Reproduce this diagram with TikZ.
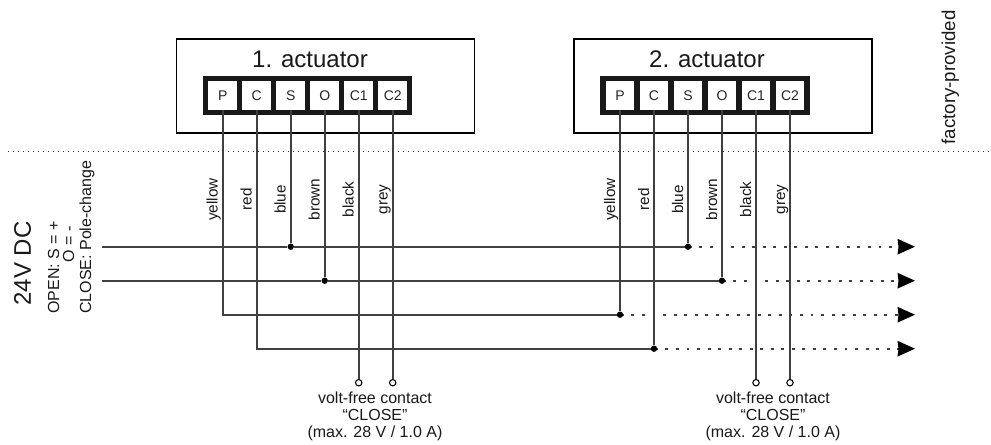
\documentclass[tikz,border=0pt]{standalone}
\usepackage{fontspec}
\setmainfont{Liberation Sans}
\usetikzlibrary{arrows.meta}

\begin{document}
\begin{tikzpicture}[
  x=0.75pt, y=-0.75pt,
  housing/.style={draw, line width=1pt, fill=white, minimum width=223.5pt, minimum height=70.5pt, inner sep=0pt},
  strip/.style={fill=black!90, minimum width=156.8pt, minimum height=29.3pt, inner sep=0pt},
  cell/.style={fill=white, text=black!85, font=\fontsize{10.5}{12}\selectfont, minimum width=21.4pt, minimum height=21.8pt, inner sep=0pt},
  title/.style={font=\fontsize{18}{20}\selectfont, text=black!90, inner sep=0pt},
  wire/.style={line width=1.4pt, black!75},
  colour/.style={font=\fontsize{11.5}{13}\selectfont, rotate=90, anchor=base, inner sep=0pt, text=black!90},
  side/.style={font=\fontsize{12}{14}\selectfont, rotate=90, inner sep=0pt, text=black!90},
  joint/.style={circle, fill=black, minimum size=4.8pt, inner sep=0pt},
  contact/.style={circle, draw, fill=white, line width=0.8pt, minimum size=4.8pt, inner sep=0pt},
  onward/.style={line width=1.4pt, black!75, dash pattern=on 2.2pt off 5.7pt, dash phase=-6pt, -{Stealth[length=13pt, width=11.5pt, inset=0.6pt, black]}},
  rating/.style={font=\fontsize{12}{12.75}\selectfont, align=center, anchor=north, inner sep=0pt, text=black!90}
]
\useasboundingbox (0,0) rectangle (991,445);

% separator and side notes
\coordinate (sepL) at (8,152);
\coordinate (sepR) at (990,152);
\draw[line width=0.75pt, black!80, dash pattern=on 1pt off 2.75pt] (sepL) -- (sepR);
\node[font=\fontsize{14}{16}\selectfont, rotate=90, anchor=base, inner sep=0pt, text=black!90] (factory) at (955,77.5) {factory-provided};
\node[font=\fontsize{18}{20}\selectfont, rotate=90, anchor=base, inner sep=0pt, text=black!90] (supply) at (31,263.5) {24V DC};
\node[side, anchor=base west] (open) at (59,314) {OPEN: S = +};
\node[side, anchor=base east] (openO) at (74,226) {O = -};
\node[side, anchor=base west] (close) at (91,314) {CLOSE: Pole-change};

% actuator 1
\node[housing] (act1) at (325.5,86) {};
\node[title] (name1) at (310,59) {1. actuator};
\node[strip] (bar1) at (307.7,95.5) {};
\node[cell] (P1) at (222.7,95.5) {P};
\node[cell] (C1) at (256.7,95.5) {C};
\node[cell] (S1) at (290.7,95.5) {S};
\node[cell] (O1) at (324.7,95.5) {O};
\node[cell] (Ca1) at (358.7,95.5) {C1};
\node[cell] (Cb1) at (392.7,95.5) {C2};

% actuator 2
\node[housing] (act2) at (723,86) {};
\node[title] (name2) at (707,59) {2. actuator};
\node[strip] (bar2) at (705,95.5) {};
\node[cell] (P2) at (620,95.5) {P};
\node[cell] (C2) at (654,95.5) {C};
\node[cell] (S2) at (688,95.5) {S};
\node[cell] (O2) at (722,95.5) {O};
\node[cell] (Ca2) at (756,95.5) {C1};
\node[cell] (Cb2) at (790,95.5) {C2};

% wire colours
\node[colour] (yel1) at (217.7,199.5) {yellow};
\node[colour] (red1) at (251.7,199.5) {red};
\node[colour] (blu1) at (285.7,199.5) {blue};
\node[colour] (bro1) at (319.7,199.5) {brown};
\node[colour] (bla1) at (353.7,199.5) {black};
\node[colour] (gre1) at (387.7,199.5) {grey};
\node[colour] (yel2) at (615,199.5) {yellow};
\node[colour] (red2) at (649,199.5) {red};
\node[colour] (blu2) at (683,199.5) {blue};
\node[colour] (bro2) at (717,199.5) {brown};
\node[colour] (bla2) at (751,199.5) {black};
\node[colour] (gre2) at (785,199.5) {grey};

% junctions and free ends
\coordinate (inS) at (102,246.7);
\coordinate (inO) at (102,280.7);
\node[joint] (jS1) at (290.7,246.7) {};
\node[joint] (jO1) at (324.7,280.7) {};
\node[joint] (jS2) at (688,246.7) {};
\node[joint] (jO2) at (722,280.7) {};
\node[joint] (jP2) at (620,314.7) {};
\node[joint] (jC2) at (654,348.7) {};
\coordinate (outS) at (915,246.7);
\coordinate (outO) at (915,280.7);
\coordinate (outP) at (915,314.7);
\coordinate (outC) at (915,348.7);
\node[contact] (ta1) at (358.7,382.7) {};
\node[contact] (tb1) at (392.7,382.7) {};
\node[contact] (ta2) at (756,382.7) {};
\node[contact] (tb2) at (790,382.7) {};

\draw[wire] (inS) -- (jS1);
\draw[wire] (jS1) -- (jS2);
\draw[wire] (inO) -- (jO1);
\draw[wire] (jO1) -- (jO2);
\draw[wire] (S1.south) -- (jS1);
\draw[wire] (O1.south) -- (jO1);
\draw[wire] (S2.south) -- (jS2);
\draw[wire] (O2.south) -- (jO2);
\draw[wire] (P1.south) |- (jP2);
\draw[wire] (C1.south) |- (jC2);
\draw[wire] (P2.south) -- (jP2);
\draw[wire] (C2.south) -- (jC2);
\draw[wire] (Ca1.south) -- (ta1);
\draw[wire] (Cb1.south) -- (tb1);
\draw[wire] (Ca2.south) -- (ta2);
\draw[wire] (Cb2.south) -- (tb2);

\draw[onward] (jS2) -- (outS);
\draw[onward] (jO2) -- (outO);
\draw[onward] (jP2) -- (outP);
\draw[onward] (jC2) -- (outC);

\node[rating] (note1) at (375,392) {volt-free contact\\``CLOSE''\\(max. 28 V / 1.0 A)};
\node[rating] (note2) at (773,392) {volt-free contact\\``CLOSE''\\(max. 28 V / 1.0 A)};

\end{tikzpicture}
\end{document}
